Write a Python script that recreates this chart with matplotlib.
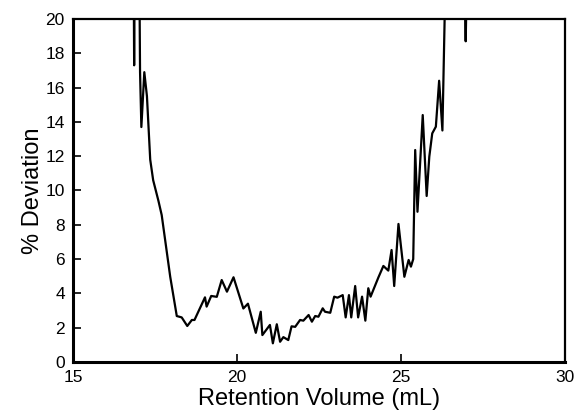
import numpy as np
import matplotlib.pyplot as plt

# retention volume (mL) and % deviation
volume = [16.84, 16.86, 16.88, 16.90, 17.01, 17.04, 17.08, 17.17, 17.25, 17.35,
          17.44, 17.60, 17.70, 17.96, 18.16, 18.31, 18.48, 18.62, 18.70, 19.02,
          19.07, 19.21, 19.38, 19.53, 19.69, 19.89, 20.19, 20.33, 20.57, 20.72,
          20.77, 21.00, 21.09, 21.21, 21.31, 21.41, 21.56, 21.66, 21.77, 21.92,
          22.02, 22.18, 22.28, 22.38, 22.48, 22.61, 22.68, 22.84, 22.96, 23.06,
          23.22, 23.31, 23.41, 23.48, 23.60, 23.69, 23.81, 23.91, 24.00, 24.07,
          24.31, 24.46, 24.61, 24.71, 24.79, 24.92, 25.10, 25.23, 25.30, 25.37,
          25.43, 25.50, 25.66, 25.78, 25.86, 25.95, 26.06, 26.16, 26.26, 26.38,
          26.90, 26.97, 27.03]
deviation = [25.0, 17.3, 25.0, 25.0, 25.0, 16.9, 13.7, 16.9, 15.5, 11.8,
             10.6, 9.4, 8.57, 4.97, 2.68, 2.6, 2.1, 2.45, 2.45, 3.77,
             3.23, 3.85, 3.8, 4.78, 4.1, 4.94, 3.12, 3.4, 1.7, 2.93,
             1.57, 2.16, 1.09, 2.2, 1.18, 1.45, 1.28, 2.08, 2.05, 2.45,
             2.41, 2.74, 2.35, 2.68, 2.64, 3.13, 2.93, 2.87, 3.81, 3.75,
             3.9, 2.6, 3.9, 2.6, 4.43, 2.6, 3.81, 2.41, 4.3, 3.81,
             4.94, 5.6, 5.33, 6.53, 4.43, 8.05, 4.97, 5.95, 5.56, 6.0,
             12.36, 8.76, 14.4, 9.68, 11.97, 13.33, 13.72, 16.4, 13.5, 25.0,
             25.0, 18.7, 25.0]

xticks = [15, 20, 25, 30]
yticks = [0, 2, 4, 6, 8, 10, 12, 14, 16, 18, 20]

plt.rcParams['font.family'] = ['Liberation Sans', 'DejaVu Sans']

fig = plt.figure(figsize=(5.76, 4.13), dpi=100)
ax = fig.add_axes([0.127, 0.1235, 0.854, 0.8305])

ax.plot(volume, deviation, color='black', lw=1.6)

ax.set_xlim(15, 30)
ax.set_ylim(0, 20)
ax.set_xticks(xticks)
ax.set_yticks(yticks)
ax.tick_params(direction='in', length=6, width=1.2, labelsize=12.5,
               top=False, right=False)
ax.tick_params(axis='x', pad=6)
ax.tick_params(axis='y', pad=6)
for side in ['left', 'bottom']:
    ax.spines[side].set_linewidth(2.2)
for side in ['top', 'right']:
    ax.spines[side].set_linewidth(1.6)

ax.set_xlabel('Retention Volume (mL)', fontsize=17, labelpad=2)
ax.set_ylabel('% Deviation', fontsize=17, labelpad=1)

fig.savefig('out.png', dpi=100)
